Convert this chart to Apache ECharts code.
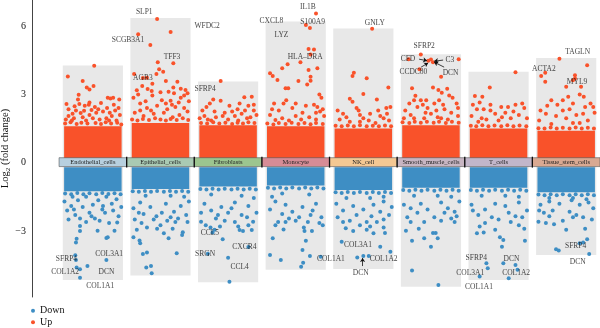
<!DOCTYPE html>
<html lang="en">
<head>
<meta charset="UTF-8">
<title>Log2 fold change by cell type</title>
<script src="https://cdn.jsdelivr.net/npm/echarts@6/dist/echarts.min.js"></script>
<style>
  html, body { margin: 0; padding: 0; background: #fff; }
  #main { width: 600px; height: 328px; }
</style>
</head>
<body>
<div id="main"></div>
<script>
// cell types along the x axis
var cellTypes = ['Endothelial_cells', 'Epithelial_cells', 'Fibroblasts', 'Monocyte',
                 'NK_cell', 'Smooth_muscle_cells', 'T_cells', 'Tissue_stem_cells'];
var barColors = ['#B7D0DF', '#A9CAB3', '#9CC58F', '#D68C96', '#F4C893', '#C7B5C2', '#C2B6CA', '#D9A992'];

// grey background columns (max / min log2FC per cell type)
var boxTop    = [4.27, 6.36, 3.57, 6.2, 5.9, 4.77, 4.0, 4.6];
var boxBottom = [-5.15, -4.95, -5.25, -4.7, -4.67, -5.45, -5.15, -4.05];

// the solid part of the clouds near zero
var denseUpTop      = [1.6, 1.75, 1.65, 1.6, 1.5, 1.65, 1.5, 1.4];
var denseDownBottom = [-1.25, -1.15, -1.05, -1.0, -1.2, -1.1, -1.1, -1.3];

// scattered genes per cell type: [jitter, log2FC]
var upPoints = [
  [[0.02,4.26],[-0.37,3.79],[-0.15,3.59],[-0.09,3.31],[-0.05,3.22],[0.01,3.37],[-0.21,2.99],[-0.22,2.78],[-0.39,2.58],[-0.2,2.58],[-0.27,2.48],[-0.05,2.65],[0.22,2.86],[0.26,2.82],[0.3,2.86],[0.39,2.78],[-0.12,2.5],[-0.06,2.55],[0.03,2.45],[-0.25,2.3],[-0.3,2.15],[-0.36,2.05],[-0.18,2.18],[-0.05,2.1],[0.05,2.2],[0.15,2.25],[0.25,2.2],[0.33,2.3],[0.38,2.4],[0.4,2.1],[-0.4,1.9],[-0.28,1.95],[-0.1,1.85],[0.1,1.9],[0.2,1.95],[0.35,1.85],[-0.15,2.0],[0.0,1.95],[0.28,2.05]],
  [[-0.05,6.31],[0.15,5.74],[-0.33,5.64],[-0.15,5.17],[0.19,4.37],[-0.04,4.41],[-0.02,4.11],[0.04,4.0],[-0.06,3.9],[-0.26,3.72],[-0.2,3.73],[-0.39,3.9],[0.08,3.59],[0.25,3.56],[-0.12,3.47],[-0.27,3.37],[0.19,3.31],[-0.35,3.18],[-0.19,3.24],[-0.13,3.15],[0.0,3.1],[0.12,3.12],[0.3,3.25],[0.37,3.2],[0.4,3.05],[-0.12,2.95],[0.02,2.75],[0.15,2.72],[0.3,2.85],[0.42,2.7],[-0.4,2.85],[-0.3,2.6],[-0.2,2.4],[-0.05,2.5],[0.1,2.35],[0.22,2.45],[0.35,2.4],[-0.38,2.2],[-0.1,2.15],[0.05,2.2],[0.28,2.1],[0.4,2.25],[-0.25,2.05],[0.18,2.0]],
  [[-0.11,3.59],[-0.22,2.78],[-0.11,2.72],[0.02,2.5],[0.24,2.88],[0.35,2.9],[0.3,2.5],[0.42,2.1],[0.14,2.35],[-0.38,2.3],[-0.35,2.05],[-0.27,2.6],[-0.05,2.2],[0.1,2.05],[-0.18,2.0],[0.2,2.15],[0.38,2.3],[-0.42,1.95],[0.0,1.9],[0.28,1.95],[-0.25,1.85],[0.15,1.85],[0.33,2.0]],
  [[0.3,6.56],[0.21,5.92],[0.15,6.05],[0.19,5.0],[0.27,4.98],[0.22,4.75],[0.07,4.41],[-0.2,4.15],[-0.38,3.93],[-0.34,3.81],[-0.27,3.63],[-0.12,4.33],[0.19,4.07],[0.32,4.15],[0.04,3.59],[0.22,3.6],[0.22,3.78],[0.17,3.44],[-0.11,3.27],[-0.15,3.27],[-0.14,2.75],[-0.32,2.6],[0.35,3.0],[0.38,2.85],[0.32,2.45],[0.4,2.35],[0.36,2.25],[-0.25,2.3],[-0.05,2.4],[0.1,2.2],[-0.38,2.1],[0.0,2.05],[0.2,2.0],[-0.2,1.95],[0.3,1.9],[-0.1,1.85],[0.42,2.05]],
  [[0.13,5.89],[-0.14,3.95],[-0.16,3.81],[0.05,3.71],[0.37,3.31],[0.0,3.02],[-0.2,2.81],[-0.16,2.68],[0.2,2.78],[-0.1,2.4],[-0.07,2.3],[0.34,2.4],[0.4,2.45],[-0.3,2.15],[-0.25,2.0],[-0.35,1.9],[0.1,2.15],[0.25,2.05],[0.0,1.95],[0.38,1.85],[-0.05,1.8],[0.18,1.75]],
  [[-0.15,4.76],[-0.04,4.48],[0.0,4.54],[0.03,4.42],[0.41,4.55],[-0.33,4.55],[-0.17,4.11],[0.15,3.78],[-0.28,3.27],[0.03,3.31],[0.11,3.19],[0.16,3.07],[-0.23,2.94],[0.24,3.25],[0.27,2.95],[0.32,2.85],[-0.25,2.75],[-0.15,2.75],[-0.07,2.75],[-0.12,2.55],[-0.2,2.45],[-0.05,2.4],[0.05,2.6],[0.12,2.75],[0.38,2.6],[-0.38,2.3],[0.2,2.35],[0.3,2.2],[-0.3,2.1],[0.0,2.15],[0.1,2.0],[0.4,2.05],[-0.4,1.95],[-0.1,1.95],[0.25,1.9]],
  [[0.25,3.97],[-0.13,3.31],[-0.35,2.93],[-0.24,2.9],[-0.28,2.65],[-0.12,2.55],[-0.32,2.35],[-0.22,2.35],[0.04,2.45],[0.25,2.55],[0.38,2.4],[0.1,2.2],[-0.05,2.15],[0.3,2.1],[-0.4,2.05],[0.18,1.95],[-0.18,1.9],[0.42,1.95],[0.0,1.85],[-0.3,1.8]],
  [[-0.1,4.57],[0.31,4.28],[-0.31,3.95],[-0.37,3.81],[-0.31,3.56],[0.13,3.84],[0.13,3.7],[0.1,3.62],[0.0,3.34],[0.22,3.34],[0.2,3.0],[0.26,2.9],[-0.22,2.75],[-0.05,2.75],[0.03,2.9],[-0.13,2.55],[0.05,2.35],[0.28,2.45],[0.36,2.6],[0.42,2.2],[-0.38,2.3],[-0.3,2.15],[-0.15,2.05],[0.15,2.1],[0.0,1.95],[-0.4,1.85],[0.32,1.85],[0.2,1.75]]
];
// points along the ragged top of each solid cloud
var upEdge = [
  [[-0.41,1.72],[-0.33,1.78],[-0.24,1.7],[-0.17,1.76],[-0.08,1.72],[0.04,1.75],[0.12,1.7],[0.19,1.78],[0.27,1.72],[0.36,1.76],[0.42,1.68],[-0.36,2.35],[-0.13,2.28],[0.08,2.35],[0.21,2.4],[0.31,2.55],[-0.02,2.32],[0.12,2.62],[-0.31,1.85],[0.24,1.85]],
  [[-0.42,1.9],[-0.34,1.85],[-0.26,1.92],[-0.17,1.88],[-0.08,1.95],[0.0,1.9],[0.08,1.86],[0.15,1.92],[0.24,1.88],[0.33,1.95],[0.41,1.88],[-0.3,2.3],[-0.14,2.3],[0.17,2.55],[0.27,2.65],[-0.22,2.7],[0.08,2.6],[0.35,2.95],[-0.33,3.0],[0.2,3.05]],
  [[-0.4,1.75],[-0.31,1.72],[-0.22,1.78],[-0.13,1.72],[-0.04,1.76],[0.06,1.7],[0.14,1.76],[0.22,1.72],[0.3,1.78],[0.39,1.74],[-0.3,1.9],[-0.08,2.05],[0.06,2.25],[0.25,2.3],[-0.2,2.25],[0.38,2.55],[0.17,2.6],[-0.32,2.45]],
  [[-0.42,1.72],[-0.33,1.68],[-0.25,1.74],[-0.15,1.7],[-0.06,1.76],[0.04,1.7],[0.13,1.74],[0.22,1.69],[0.3,1.75],[0.4,1.7],[-0.3,1.88],[0.08,1.9],[0.15,2.5],[-0.18,2.6],[0.27,2.55],[-0.35,2.35],[0.0,2.6],[0.3,2.2]],
  [[-0.41,1.62],[-0.32,1.6],[-0.23,1.64],[-0.14,1.6],[-0.05,1.65],[0.05,1.6],[0.14,1.63],[0.23,1.6],[0.32,1.64],[0.41,1.6],[-0.2,1.8],[0.08,1.85],[0.3,1.95],[-0.38,2.3],[0.22,2.3],[-0.05,2.1],[0.35,2.15]],
  [[-0.42,1.78],[-0.32,1.75],[-0.24,1.8],[-0.15,1.76],[-0.06,1.8],[0.04,1.76],[0.12,1.8],[0.22,1.75],[0.31,1.8],[0.41,1.76],[-0.25,1.95],[0.15,1.95],[-0.32,2.6],[0.08,2.3],[0.18,2.55],[0.4,2.4],[-0.08,2.2]],
  [[-0.41,1.62],[-0.33,1.6],[-0.24,1.65],[-0.15,1.6],[-0.06,1.64],[0.04,1.6],[0.13,1.65],[0.22,1.6],[0.31,1.64],[0.41,1.6],[-0.25,1.95],[0.05,2.0],[0.22,2.25],[-0.12,2.3],[0.35,2.6],[0.14,2.45],[-0.38,2.55]],
  [[-0.41,1.52],[-0.32,1.5],[-0.23,1.55],[-0.14,1.5],[-0.05,1.54],[0.05,1.5],[0.14,1.55],[0.23,1.5],[0.32,1.54],[0.41,1.5],[-0.22,1.7],[0.1,1.75],[-0.28,2.5],[0.1,2.6],[-0.05,2.3],[0.25,2.15],[0.4,2.45]]
];
var downPoints = [
  [[-0.19,-2.78],[-0.19,-3.0],[0.07,-2.99],[0.2,-3.31],[0.22,-3.28],[-0.24,-3.34],[-0.25,-3.51],[0.32,-2.99],[0.36,-2.63],[0.2,-4.27],[-0.26,-4.07],[-0.25,-4.27],[-0.24,-4.6],[-0.19,-4.68],[-0.08,-4.54],[-0.19,-5.05],[-0.26,-2.3],[-0.19,-2.45],[-0.05,-2.2],[0.03,-2.45],[0.18,-2.2],[0.3,-2.1],[0.38,-2.35],[-0.38,-2.1],[-0.1,-2.6],[0.1,-2.55],[-0.32,-1.9],[-0.15,-1.95],[0.0,-1.85],[0.15,-1.9],[0.28,-1.8],[0.42,-1.95],[-0.42,-1.7],[-0.22,-1.65],[0.08,-1.65],[0.35,-1.6]],
  [[-0.4,-3.28],[-0.31,-3.42],[-0.3,-3.54],[-0.26,-4.01],[-0.2,-3.94],[-0.21,-4.6],[-0.14,-4.54],[-0.13,-4.86],[0.24,-3.98],[0.32,-3.18],[0.33,-3.05],[0.12,-3.32],[0.05,-3.1],[-0.05,-2.9],[0.0,-2.75],[0.18,-2.9],[-0.2,-2.85],[-0.28,-2.65],[-0.35,-2.95],[-0.38,-2.5],[-0.1,-2.5],[0.1,-2.55],[0.26,-2.45],[0.4,-2.6],[0.38,-2.3],[-0.25,-2.25],[0.02,-2.2],[0.2,-2.15],[-0.4,-2.0],[-0.15,-1.95],[0.3,-1.9],[0.08,-1.8],[-0.3,-1.75],[0.42,-1.7]],
  [[-0.23,-3.07],[-0.26,-2.85],[-0.2,-2.95],[-0.08,-3.36],[0.17,-2.96],[0.22,-3.0],[0.35,-2.96],[0.37,-2.59],[0.0,-4.17],[0.02,-5.23],[-0.3,-4.0],[0.3,-3.7],[-0.4,-2.59],[-0.33,-2.75],[-0.18,-2.45],[-0.05,-2.55],[0.1,-2.6],[0.15,-2.8],[-0.12,-2.8],[0.3,-2.75],[-0.4,-2.2],[-0.25,-2.1],[0.0,-2.2],[0.2,-2.3],[0.42,-2.2],[-0.1,-1.95],[0.3,-1.9],[-0.35,-1.8],[0.1,-1.75]],
  [[-0.34,-3.32],[-0.38,-4.05],[-0.22,-4.27],[-0.18,-2.93],[0.08,-4.57],[0.11,-4.39],[0.15,-3.43],[0.1,-3.83],[0.21,-4.1],[0.24,-3.0],[0.18,-2.6],[0.12,-2.85],[0.13,-3.0],[0.37,-4.13],[-0.3,-2.75],[-0.26,-2.6],[-0.1,-2.45],[0.0,-2.55],[0.35,-2.65],[0.4,-2.75],[0.38,-2.4],[-0.2,-2.25],[-0.05,-2.15],[-0.38,-2.05],[0.25,-2.1],[0.1,-1.95],[-0.15,-1.85],[0.3,-1.8],[-0.3,-1.7]],
  [[-0.32,-3.47],[-0.26,-2.88],[-0.09,-4.16],[0.0,-4.1],[0.08,-4.1],[0.25,-3.69],[0.4,-3.91],[0.32,-3.09],[0.3,-2.85],[-0.15,-3.0],[0.05,-2.95],[0.15,-3.1],[0.2,-2.6],[-0.2,-2.55],[0.05,-2.6],[-0.05,-2.75],[-0.38,-2.4],[-0.1,-2.3],[0.12,-2.35],[0.38,-2.3],[-0.3,-2.1],[0.0,-2.05],[0.25,-2.15],[-0.15,-1.9],[0.15,-1.85],[0.42,-1.95],[-0.4,-1.8],[0.3,-1.7]],
  [[-0.28,-4.74],[0.11,-5.37],[-0.28,-3.43],[-0.1,-3.32],[0.0,-3.69],[0.1,-3.32],[0.03,-3.09],[0.07,-3.09],[-0.37,-2.99],[-0.1,-2.6],[0.35,-2.6],[0.38,-2.35],[0.3,-2.45],[0.2,-2.2],[-0.2,-2.2],[-0.3,-2.0],[-0.4,-1.85],[-0.15,-1.8],[0.25,-2.0],[0.35,-2.15],[0.05,-2.4],[-0.05,-2.05],[0.15,-1.75],[0.42,-1.7],[-0.35,-2.4]],
  [[-0.32,-3.1],[-0.22,-3.07],[-0.05,-2.95],[0.02,-3.28],[0.07,-3.4],[0.05,-3.69],[0.39,-3.43],[-0.18,-4.42],[-0.16,-4.64],[0.07,-4.42],[0.25,-4.49],[0.28,-4.7],[0.15,-5.08],[-0.28,-5.0],[-0.38,-2.1],[-0.3,-2.3],[-0.2,-2.05],[0.0,-2.5],[0.15,-2.2],[0.25,-2.35],[0.35,-2.4],[0.3,-2.75],[-0.2,-2.65],[-0.1,-2.4],[0.42,-2.1],[-0.4,-1.85],[0.1,-1.9],[-0.05,-1.8],[0.3,-1.75]],
  [[-0.41,-2.59],[-0.3,-2.65],[-0.18,-2.7],[-0.05,-2.55],[0.0,-2.95],[0.25,-2.4],[0.28,-2.9],[0.38,-2.5],[0.31,-3.36],[-0.15,-3.8],[-0.11,-3.86],[0.34,-4.01],[0.2,-3.54],[0.25,-3.5],[-0.33,-2.2],[-0.2,-2.1],[0.05,-2.15],[0.15,-2.3],[0.4,-2.0],[-0.38,-1.85],[-0.1,-1.8],[0.2,-1.85],[0.33,-1.75],[-0.25,-1.7],[0.08,-1.65]]
];
var downEdge = [
  [[-0.41,-1.35],[-0.32,-1.38],[-0.23,-1.33],[-0.14,-1.38],[-0.05,-1.34],[0.05,-1.38],[0.14,-1.33],[0.23,-1.37],[0.32,-1.34],[0.41,-1.38],[-0.3,-1.5],[-0.1,-1.5],[0.2,-1.5],[-0.36,-2.5],[0.24,-2.65],[-0.02,-2.35],[0.14,-2.05],[-0.28,-2.05]],
  [[-0.41,-1.25],[-0.32,-1.28],[-0.23,-1.24],[-0.14,-1.28],[-0.05,-1.24],[0.05,-1.28],[0.14,-1.24],[0.23,-1.28],[0.32,-1.24],[0.41,-1.28],[-0.22,-1.45],[0.15,-1.45],[0.35,-1.5],[-0.06,-2.35],[0.22,-2.6],[-0.32,-2.2],[0.15,-2.4]],
  [[-0.41,-1.15],[-0.32,-1.18],[-0.23,-1.14],[-0.14,-1.18],[-0.05,-1.14],[0.05,-1.18],[0.14,-1.14],[0.23,-1.18],[0.32,-1.14],[0.41,-1.18],[-0.25,-1.4],[0.2,-1.45],[0.38,-1.55],[-0.15,-2.3],[0.28,-2.4],[0.05,-2.0]],
  [[-0.41,-1.1],[-0.32,-1.13],[-0.23,-1.09],[-0.14,-1.13],[-0.05,-1.09],[0.05,-1.13],[0.14,-1.09],[0.23,-1.13],[0.32,-1.09],[0.41,-1.13],[-0.2,-1.35],[0.2,-1.4],[-0.35,-1.5],[0.05,-2.4],[0.22,-2.3],[-0.15,-2.6]],
  [[-0.41,-1.3],[-0.32,-1.33],[-0.23,-1.29],[-0.14,-1.33],[-0.05,-1.29],[0.05,-1.33],[0.14,-1.29],[0.23,-1.33],[0.32,-1.29],[0.41,-1.33],[-0.25,-1.55],[0.1,-1.55],[0.3,-1.5],[-0.3,-2.6],[0.3,-2.5],[0.1,-2.8]],
  [[-0.41,-1.2],[-0.32,-1.23],[-0.23,-1.19],[-0.14,-1.23],[-0.05,-1.19],[0.05,-1.23],[0.14,-1.19],[0.23,-1.23],[0.32,-1.19],[0.41,-1.23],[-0.25,-1.45],[0.1,-1.45],[0.3,-1.5],[-0.3,-2.6],[0.15,-2.55],[-0.18,-2.9]],
  [[-0.41,-1.2],[-0.32,-1.23],[-0.23,-1.19],[-0.14,-1.23],[-0.05,-1.19],[0.05,-1.23],[0.14,-1.19],[0.23,-1.23],[0.32,-1.19],[0.41,-1.23],[-0.25,-1.45],[0.1,-1.45],[0.3,-1.5],[-0.28,-2.8],[0.18,-2.6],[0.38,-2.9]],
  [[-0.41,-1.4],[-0.32,-1.43],[-0.23,-1.39],[-0.14,-1.43],[-0.05,-1.39],[0.05,-1.43],[0.14,-1.39],[0.23,-1.43],[0.32,-1.39],[0.41,-1.43],[-0.25,-1.55],[0.1,-1.55],[0.3,-1.6],[-0.25,-2.35],[0.1,-2.4],[-0.4,-2.1]]
];

// labelled genes: [cell index, jitter, log2FC, name]
var geneLabels = [
  [1,-0.24,6.62,'SLP1'],[1,0.69,6.0,'WFDC2'],[1,-0.48,5.39,'SCGB3A1'],[1,0.17,4.63,'TFF3'],[1,-0.26,3.71,'AGR3'],
  [2,-0.34,3.22,'SFRP4'],
  [3,-0.36,6.21,'CXCL8'],[3,0.18,6.84,'IL1B'],[3,0.25,6.19,'S100A9'],[3,-0.21,5.61,'LYZ'],[3,0.14,4.63,'HLA\u2013DRA'],
  [4,0.17,6.15,'GNLY'],
  [5,-0.1,5.12,'SFRP2'],[5,-0.34,4.55,'CFD'],[5,0.28,4.51,'C3'],[5,-0.26,4.0,'CCDC80'],[5,0.29,3.93,'DCN'],
  [7,-0.33,4.11,'ACTA2'],[7,0.17,4.85,'TAGLN'],[7,0.16,3.53,'MYL9'],
  [0,-0.39,-4.24,'SFRP4'],[0,0.24,-4.0,'COL3A1'],[0,-0.41,-4.81,'COL1A2'],[0,0.2,-4.81,'DCN'],[0,0.11,-5.4,'COL1A1'],
  [2,-0.27,-3.07,'CCL5'],[2,-0.34,-4.01,'SRGN'],[2,0.24,-3.69,'CXCR4'],[2,0.17,-4.57,'CCL4'],
  [3,0.52,-4.23,'COL1A1'],
  [4,-0.08,-3.63,'COL3A1'],[4,-0.04,-4.83,'DCN'],[4,0.3,-4.23,'COL1A2'],
  [6,-0.33,-4.2,'SFRP4'],[6,-0.42,-4.83,'COL3A1'],[6,-0.29,-5.45,'COL1A1'],[6,0.19,-4.23,'DCN'],[6,0.26,-4.83,'COL1A2'],
  [7,0.14,-3.64,'SFRP4'],[7,0.17,-4.37,'DCN']
];

// leader arrows: [x from, y from, x to, y to]
var arrows = [
  [4.825,4.55,4.943,4.48],[5.18,4.51,5.047,4.46],[4.854,4.2,4.958,4.38],[5.195,4.2,5.047,4.42],
  [3.989,-4.54,3.989,-4.19]
];

var yTicks = [-3, 0, 3, 6];

var upColor = '#F9522A';
var downColor = '#3E8EC4';
var serif = '"Liberation Serif", "DejaVu Serif", serif';

function flatten() {
  var out = [];
  for (var k = 0; k < arguments.length; k++) {
    arguments[k].forEach(function (g, i) {
      g.forEach(function (p) { out.push([i + p[0], p[1]]); });
    });
  }
  return out;
}

function rectBetween(api, x0, x1, y0, y1) {
  var a = api.coord([x0, y1]);
  var b = api.coord([x1, y0]);
  return { x: a[0], y: a[1], width: b[0] - a[0], height: b[1] - a[1] };
}

var myChart = echarts.init(document.getElementById('main'));

myChart.setOption({
  animation: false,
  grid: { left: 32, right: 0, top: 0, bottom: 31, containLabel: false, outerBoundsMode: 'none' },
  legend: {
    data: ['Down', 'Up'],
    orient: 'vertical',
    left: 31,
    top: 305,
    height: 30,
    icon: 'circle',
    itemWidth: 4,
    itemHeight: 4,
    itemGap: 0,
    padding: 0,
    textStyle: { fontFamily: serif, fontSize: 10, lineHeight: 11.5, color: '#111' }
  },
  xAxis: { type: 'value', min: -0.9, max: 7.5, show: false },
  yAxis: {
    type: 'value',
    min: -5.9,
    max: 7.15,
    name: 'Log{sub|2} (fold change)',
    nameLocation: 'middle',
    nameRotate: 90,
    nameGap: 20,
    nameMoveOverlap: false,
    nameTextStyle: {
      fontFamily: serif, fontSize: 10.5, color: '#111',
      rich: { sub: { fontFamily: serif, fontSize: 7, verticalAlign: 'bottom', padding: [6, 0, 0, 0] } }
    },
    splitLine: { show: false },
    axisLine: { show: true, onZero: false, lineStyle: { color: '#444', width: 1 } },
    axisTick: { show: false },
    axisLabel: {
      customValues: yTicks,
      fontFamily: serif, fontSize: 10, color: '#111', margin: 6,
      formatter: function (v) { return String(v).replace('-', '\u2212'); }
    }
  },
  series: [
    {
      type: 'custom',
      name: 'box',
      z: 1,
      silent: true,
      data: cellTypes.map(function (c, i) { return [i, boxBottom[i], boxTop[i]]; }),
      renderItem: function (params, api) {
        var i = api.value(0);
        return { type: 'rect', shape: rectBetween(api, i - 0.445, i + 0.445, api.value(1), api.value(2)),
                 style: { fill: '#E8E8E8' } };
      }
    },
    {
      type: 'custom',
      name: 'denseUp',
      z: 2,
      silent: true,
      data: cellTypes.map(function (c, i) { return [i, 0.2, denseUpTop[i]]; }),
      renderItem: function (params, api) {
        var i = api.value(0);
        return { type: 'rect', shape: rectBetween(api, i - 0.425, i + 0.425, api.value(1), api.value(2)),
                 style: { fill: upColor } };
      }
    },
    {
      type: 'custom',
      name: 'denseDown',
      z: 2,
      silent: true,
      data: cellTypes.map(function (c, i) { return [i, denseDownBottom[i], -0.2]; }),
      renderItem: function (params, api) {
        var i = api.value(0);
        return { type: 'rect', shape: rectBetween(api, i - 0.425, i + 0.425, api.value(1), api.value(2)),
                 style: { fill: downColor } };
      }
    },
    {
      type: 'scatter',
      name: 'Down',
      z: 3,
      symbolSize: 4,
      itemStyle: { color: downColor, opacity: 1 },
      data: flatten(downPoints, downEdge)
    },
    {
      type: 'scatter',
      name: 'Up',
      z: 3,
      symbolSize: 4,
      itemStyle: { color: upColor, opacity: 1 },
      data: flatten(upPoints, upEdge)
    },
    {
      type: 'custom',
      name: 'cellBar',
      z: 4,
      silent: true,
      data: cellTypes.map(function (c, i) { return [i, c]; }),
      renderItem: function (params, api) {
        var i = api.value(0);
        var r = rectBetween(api, i - 0.5, i + 0.5, -0.17, 0.22);
        var children = [
          { type: 'rect', shape: r, style: { fill: barColors[i], stroke: '#555', lineWidth: 0.6 } },
          { type: 'text', style: { x: r.x + r.width / 2, y: r.y + r.height / 2 + 0.5, text: cellTypes[i],
              align: 'center', verticalAlign: 'middle', fontFamily: serif, fontSize: 6.5, fill: '#222' } }
        ];
        if (i > 0) {
          children.push({ type: 'line', shape: { x1: r.x, y1: r.y - 1, x2: r.x, y2: r.y + r.height + 1 },
                          style: { stroke: '#111', lineWidth: 1.3 } });
        }
        return { type: 'group', children: children };
      }
    },
    {
      type: 'scatter',
      name: 'genes',
      z: 5,
      silent: true,
      symbolSize: 0,
      data: geneLabels.map(function (g) { return { value: [g[0] + g[1], g[2]], name: g[3] }; }),
      label: {
        show: true,
        position: 'inside',
        formatter: '{b}',
        fontFamily: serif,
        fontSize: 7.5,
        color: '#111'
      }
    },
    {
      type: 'lines',
      name: 'arrows',
      coordinateSystem: 'cartesian2d',
      z: 5,
      silent: true,
      symbol: ['none', 'arrow'],
      symbolSize: 4,
      lineStyle: { color: '#111', width: 0.8, opacity: 1 },
      data: arrows.map(function (a) { return { coords: [[a[0], a[1]], [a[2], a[3]]] }; })
    }
  ]
});
</script>
</body>
</html>
